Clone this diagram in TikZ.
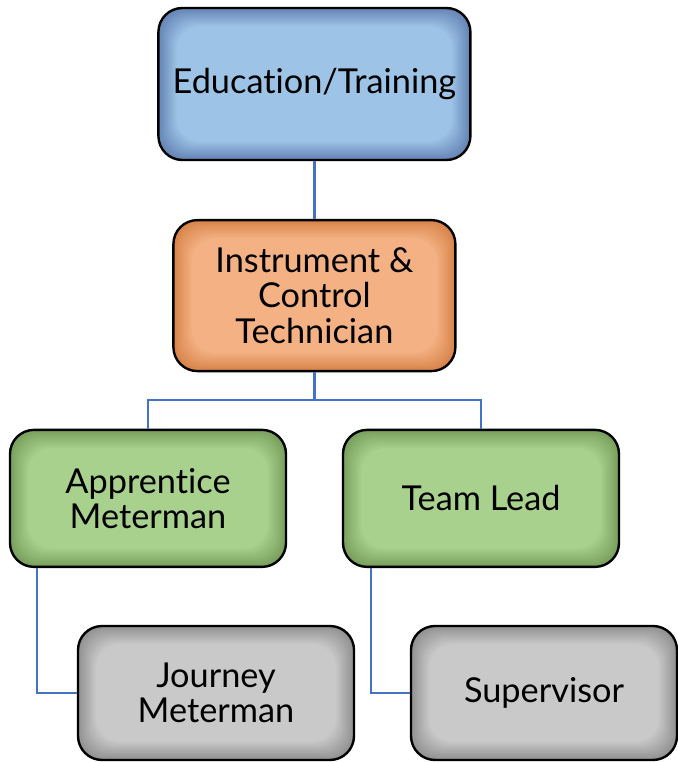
\documentclass[tikz,border=0pt]{standalone}
\usepackage{fontspec}
\setmainfont{Lato}[Ligatures={NoCommon,NoRare,NoContextual}]
\usepackage{xcolor}
\usepackage{tikz}
\usetikzlibrary{positioning}

\definecolor{eduin}{HTML}{9DC3E6}
\definecolor{eduout}{HTML}{6585B5}
\definecolor{ictin}{HTML}{F4B183}
\definecolor{ictout}{HTML}{D8844A}
\definecolor{grnin}{HTML}{A9D18E}
\definecolor{grnout}{HTML}{78A05C}
\definecolor{gryin}{HTML}{C9C9C9}
\definecolor{gryout}{HTML}{929292}
\definecolor{linkblue}{HTML}{4472C4}

\begin{document}
\begin{tikzpicture}[glow/.style 2 args={path picture={
    \foreach \k in {0,...,10}{
      \pgfmathsetmacro\mix{\k*10}
      \fill[#1!\mix!#2, rounded corners=0.6cm]
        ([shift={(\k*0.045cm,-\k*0.045cm)}]path picture bounding box.north west) rectangle
        ([shift={(-\k*0.045cm,\k*0.045cm)}]path picture bounding box.south east);
    }}}]
\useasboundingbox (0,0) rectangle (16.95,19.05);
\tikzstyle{every node} = [draw=black, line width=1.7pt, rounded corners=0.6cm, align=center,
  inner sep=0pt, font=\fontsize{24.4}{25}\selectfont]
\node[glow={eduin}{eduout}, minimum width=7.8cm, minimum height=3.8cm] (1) at (7.86,16.95) {Education/Training};
\node[glow={ictin}{ictout}, minimum width=7.05cm, minimum height=3.775cm] (2) at (7.86,11.66) {Instrument \&\\Control\\Technician};
\node[glow={grnin}{grnout}, minimum width=6.9cm, minimum height=3.425cm] (3) at (3.7,6.59) {Apprentice\\Meterman};
\node[glow={grnin}{grnout}, minimum width=6.9cm, minimum height=3.425cm] (4) at (12.025,6.59) {Team Lead};
\node[glow={gryin}{gryout}, minimum width=6.9cm, minimum height=3.35cm] (5) at (5.4,1.725) {Journey\\Meterman};
\node[glow={gryin}{gryout}, minimum width=6.65cm, minimum height=3.35cm] (6) at (13.6,1.725) {Supervisor};
\tikzstyle{every node} = []
\coordinate (j) at (7.86,9.05);
\begin{scope}[line width=1.9pt]
\draw[linkblue] (1) -- (2);
\draw[linkblue] (2) -- (j);
\draw[linkblue] (j) -| (3);
\draw[linkblue] (j) -| (4);
\draw[linkblue] ([xshift=-2.775cm]3.south) |- (5);
\draw[linkblue] ([xshift=-2.75cm]4.south) |- (6);
\end{scope}
\end{tikzpicture}
\end{document}
